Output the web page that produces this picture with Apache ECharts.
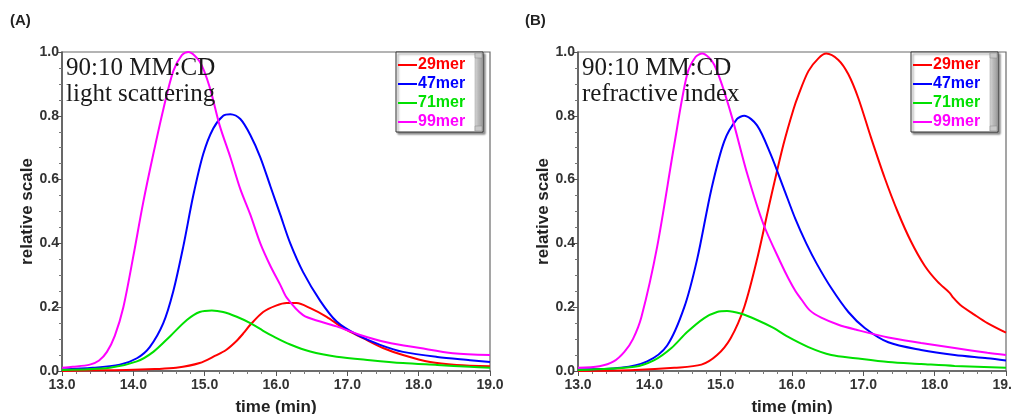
<!DOCTYPE html>
<html>
<head>
<meta charset="utf-8">
<script src="https://cdn.jsdelivr.net/npm/echarts@6/dist/echarts.min.js"></script>
<style>
html,body{margin:0;padding:0;background:#fff;}
#c{width:1011px;height:414px;}
</style>
</head>
<body>
<div id="c"></div>
<script>
// ---- data ----
const seriesNames = ['29mer', '47mer', '71mer', '99mer'];
const seriesColors = ['#ff0000', '#0000ff', '#00e000', '#ff00ff'];
const xTicks = [13, 14, 15, 16, 17, 18, 19];
const yTicks = [0, 0.2, 0.4, 0.6, 0.8, 1.0];
const panelLabels = ['(A)', '(B)'];
const panelTitles = ['90:10 MM:CD\nlight scattering', '90:10 MM:CD\nrefractive index'];

// (A) light scattering
const ls29 = [[13.0,0.0],[13.5,0.002],[13.9,0.003],[14.3,0.006],[14.6,0.01],[14.93,0.025],[15.15,0.048],[15.3,0.066],[15.45,0.095],[15.55,0.12],[15.64,0.145],[15.82,0.185],[16.0,0.205],[16.15,0.213],[16.29,0.213],[16.48,0.197],[16.71,0.17],[16.94,0.135],[17.22,0.103],[17.5,0.072],[17.78,0.05],[18.16,0.028],[18.53,0.019],[19.0,0.015]];
const ls47 = [[13.0,0.005],[13.43,0.01],[13.81,0.02],[14.05,0.04],[14.23,0.075],[14.42,0.15],[14.56,0.25],[14.7,0.39],[14.84,0.55],[14.98,0.68],[15.12,0.76],[15.26,0.80],[15.36,0.805],[15.5,0.79],[15.64,0.74],[15.78,0.67],[15.92,0.58],[16.06,0.49],[16.2,0.40],[16.38,0.31],[16.62,0.22],[16.85,0.155],[17.14,0.113],[17.46,0.082],[17.78,0.06],[18.26,0.044],[18.72,0.034],[19.0,0.028]];
const ls71 = [[13.0,0.003],[13.67,0.01],[14.05,0.03],[14.28,0.06],[14.52,0.11],[14.75,0.16],[14.93,0.185],[15.1,0.19],[15.26,0.185],[15.45,0.17],[15.64,0.15],[15.82,0.126],[15.95,0.11],[16.2,0.083],[16.48,0.061],[16.85,0.045],[17.32,0.034],[17.78,0.025],[18.26,0.019],[18.72,0.013],[19.0,0.01]];
const ls99 = [[13.0,0.01],[13.15,0.013],[13.39,0.02],[13.52,0.033],[13.63,0.06],[13.74,0.11],[13.86,0.2],[14.0,0.36],[14.14,0.53],[14.28,0.68],[14.42,0.82],[14.56,0.94],[14.68,0.99],[14.77,1.0],[14.93,0.97],[15.07,0.89],[15.21,0.77],[15.36,0.67],[15.5,0.57],[15.64,0.49],[15.78,0.40],[15.92,0.33],[16.06,0.27],[16.15,0.23],[16.38,0.175],[16.62,0.155],[16.85,0.14],[17.18,0.113],[17.55,0.09],[18.02,0.072],[18.48,0.056],[19.0,0.05]];

// (B) refractive index
const ri29 = [[13.0,0.0],[13.8,0.003],[14.35,0.01],[14.73,0.02],[14.95,0.05],[15.14,0.103],[15.33,0.2],[15.51,0.35],[15.7,0.54],[15.88,0.71],[16.02,0.82],[16.09,0.865],[16.23,0.94],[16.37,0.98],[16.48,0.995],[16.65,0.975],[16.79,0.93],[16.93,0.855],[17.11,0.73],[17.3,0.605],[17.48,0.5],[17.67,0.405],[17.86,0.33],[18.04,0.28],[18.21,0.245],[18.26,0.23],[18.36,0.207],[18.56,0.176],[18.74,0.15],[19.0,0.12]];
const ri47 = [[13.0,0.005],[13.6,0.01],[13.97,0.03],[14.25,0.08],[14.49,0.2],[14.67,0.35],[14.87,0.57],[15.05,0.72],[15.23,0.79],[15.33,0.80],[15.51,0.77],[15.7,0.68],[15.88,0.575],[16.05,0.475],[16.2,0.40],[16.35,0.335],[16.55,0.26],[16.79,0.185],[17.02,0.135],[17.35,0.09],[17.81,0.066],[18.28,0.05],[18.74,0.04],[19.0,0.033]];
const ri71 = [[13.0,0.003],[13.79,0.013],[14.07,0.034],[14.31,0.072],[14.53,0.122],[14.77,0.166],[14.95,0.185],[15.09,0.188],[15.28,0.18],[15.51,0.16],[15.74,0.135],[15.92,0.11],[16.23,0.075],[16.55,0.05],[16.89,0.04],[17.35,0.028],[17.81,0.022],[18.28,0.016],[19.0,0.01]];
const ri99 = [[13.0,0.01],[13.3,0.015],[13.5,0.03],[13.65,0.06],[13.77,0.1],[13.89,0.17],[14.11,0.39],[14.35,0.71],[14.53,0.93],[14.65,0.985],[14.74,0.995],[14.91,0.96],[15.14,0.81],[15.37,0.62],[15.6,0.46],[15.84,0.34],[15.95,0.29],[16.05,0.25],[16.13,0.225],[16.25,0.19],[16.41,0.167],[16.65,0.145],[16.89,0.13],[17.35,0.105],[17.81,0.088],[18.28,0.072],[18.74,0.057],[19.0,0.05]];

const panels = [[ls29, ls47, ls71, ls99], [ri29, ri47, ri71, ri99]];

// ---- layout ----
const gridLefts = [62, 578];
const gridTop = 52, gridW = 428, gridH = 319;
const legendBoxes = [396, 911];
const labelLefts = [10, 525];

const chart = echarts.init(document.getElementById('c'), null, {renderer: 'canvas'});
const FONT = '"Liberation Sans", Arial, sans-serif';

const grids = [], xAxes = [], yAxes = [], series = [], titles = [], legends = [], graphics = [];
panels.forEach((panel, p) => {
  grids.push({left: gridLefts[p], top: gridTop, width: gridW, height: gridH,
    containLabel: false, outerBoundsMode: 'none',
    show: true, borderColor: '#6a6a6a', borderWidth: 1.2, backgroundColor: '#fff'});
  xAxes.push({type: 'value', gridIndex: p, min: xTicks[0], max: xTicks[xTicks.length-1], interval: 1,
    name: 'time (min)', nameLocation: 'middle', nameGap: 28,
    nameTextStyle: {fontFamily: FONT, fontWeight: 'bold', fontSize: 17, color: '#222'},
    axisLine: {lineStyle: {color: '#555', width: 1.5}},
    axisTick: {length: 5, lineStyle: {color: '#555'}},
    minorTick: {show: true, splitNumber: 5, length: 3, lineStyle: {color: '#777'}},
    splitLine: {show: false},
    axisLabel: {fontFamily: FONT, fontWeight: 'bold', fontSize: 14, color: '#333', margin: 7,
      formatter: v => v.toFixed(1)}});
  yAxes.push({type: 'value', gridIndex: p, min: yTicks[0], max: yTicks[yTicks.length-1], interval: 0.2,
    name: 'relative scale', nameLocation: 'middle', nameGap: 25, nameRotate: 90,
    nameTextStyle: {fontFamily: FONT, fontWeight: 'bold', fontSize: 17, color: '#222'},
    axisLine: {show: true, lineStyle: {color: '#555', width: 1.5}},
    axisTick: {show: true, length: 5, lineStyle: {color: '#555'}},
    minorTick: {show: true, splitNumber: 4, length: 3, lineStyle: {color: '#777'}},
    splitLine: {show: false},
    axisLabel: {fontFamily: FONT, fontWeight: 'bold', fontSize: 14, color: '#333', margin: 3,
      formatter: v => v.toFixed(1)}});
  panel.forEach((d, i) => {
    series.push({type: 'line', name: seriesNames[i], xAxisIndex: p, yAxisIndex: p,
      data: d, smooth: 0.3, showSymbol: false, symbol: 'none',
      lineStyle: {color: seriesColors[i], width: 2}, itemStyle: {color: seriesColors[i]},
      z: 3});
  });
  titles.push({text: panelLabels[p], left: labelLefts[p], top: 13, padding: 0,
    textStyle: {fontFamily: FONT, fontWeight: 'bold', fontSize: 15, color: '#222'}});
  titles.push({text: panelTitles[p], left: gridLefts[p] + 4, top: 55, padding: 0,
    textStyle: {fontFamily: '"Liberation Serif", "Times New Roman", serif', fontWeight: 'normal',
      fontSize: 25, lineHeight: 26, color: '#1a1a1a'}});
  const bx = legendBoxes[p];
  graphics.push({type: 'rect', shape: {x: bx, y: 52, width: 87, height: 80}, z: 20,
    style: {fill: '#fff', stroke: '#333', lineWidth: 1, shadowColor: 'rgba(0,0,0,0.45)', shadowOffsetX: 2, shadowOffsetY: 2, shadowBlur: 2}});
  graphics.push({type: 'rect', shape: {x: bx + 79, y: 53, width: 7, height: 78}, z: 21,
    style: {fill: new echarts.graphic.LinearGradient(0, 0, 1, 0, [{offset: 0, color: '#d8d8d8'}, {offset: 0.5, color: '#b8b8b8'}, {offset: 1, color: '#a0a0a0'}]), stroke: '#999', lineWidth: 0.5}});
  graphics.push({type: 'rect', shape: {x: bx + 79, y: 53, width: 7, height: 5}, z: 22, style: {fill: '#c8c8c8', stroke: '#888', lineWidth: 0.5}});
  graphics.push({type: 'rect', shape: {x: bx + 79, y: 126, width: 7, height: 5}, z: 22, style: {fill: '#c8c8c8', stroke: '#888', lineWidth: 0.5}});
  legends.push({left: bx + 2, top: 56, orient: 'vertical', padding: 0, itemGap: 1, z: 30,
    itemWidth: 19, itemHeight: 2, icon: 'rect', selectedMode: false,
    textStyle: {fontFamily: FONT, fontWeight: 'bold', fontSize: 16, lineHeight: 18, padding: [0, 0, 0, -4]},
    data: seriesNames.map((n, i) => ({name: n, textStyle: {color: seriesColors[i]}}))});
});

chart.setOption({
  animation: false,
  backgroundColor: '#fff',
  title: titles,
  grid: grids,
  xAxis: xAxes,
  yAxis: yAxes,
  legend: legends,
  graphic: graphics,
  series: series
});
</script>
</body>
</html>
